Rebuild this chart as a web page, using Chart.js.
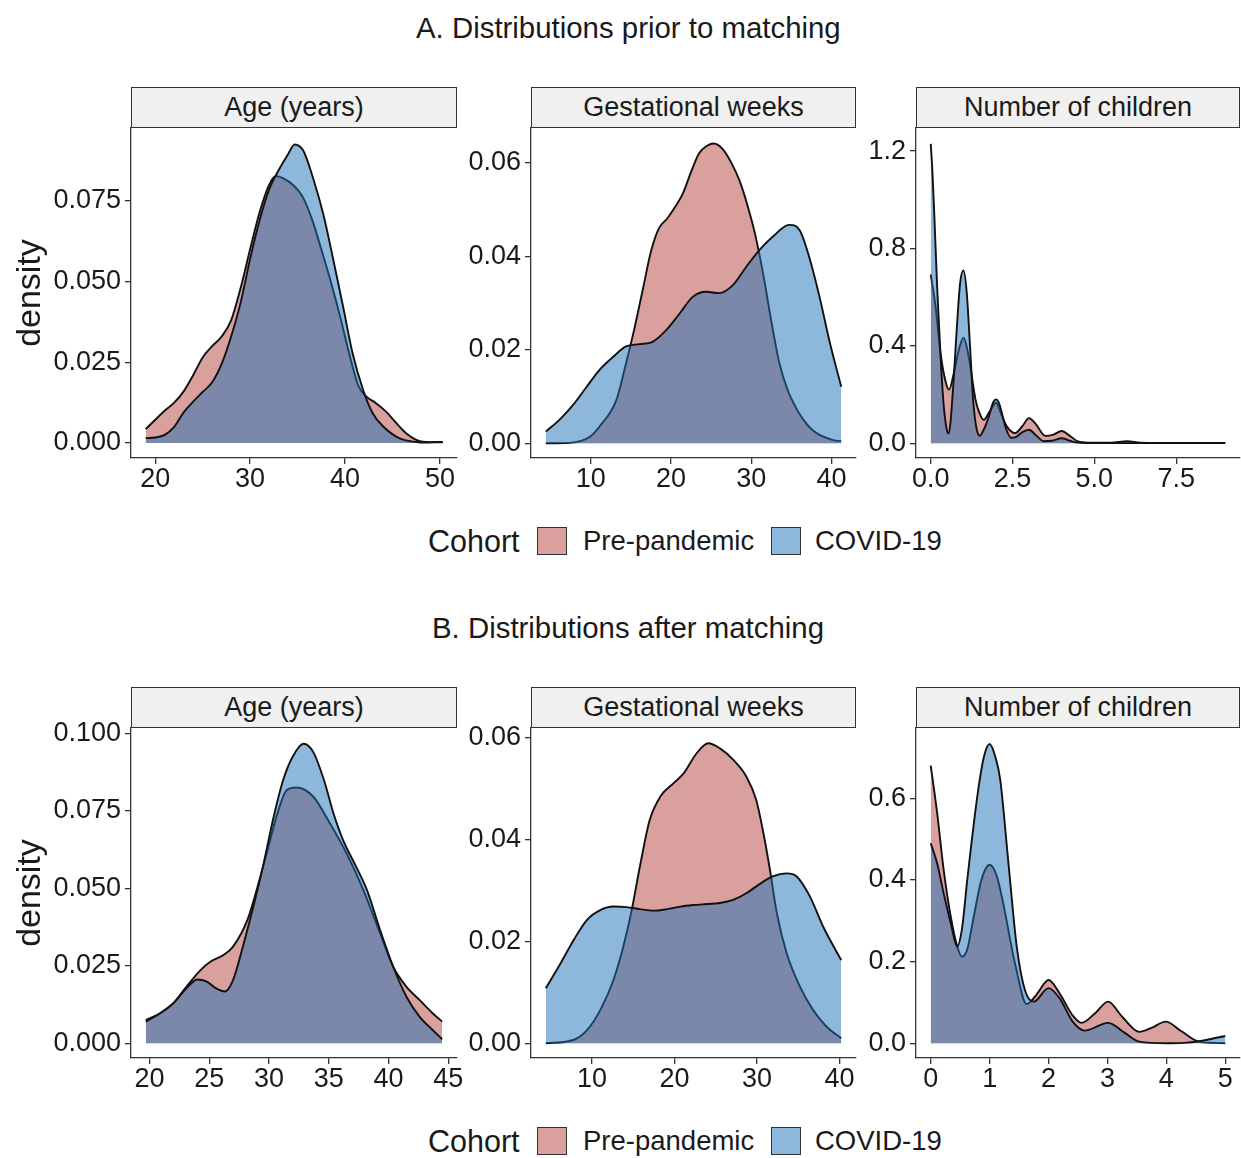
<!DOCTYPE html>
<html>
<head>
<meta charset="utf-8">
<script src="https://cdn.jsdelivr.net/npm/chart.js@4.4.1/dist/chart.umd.min.js"></script>
<style>
  body { margin: 0; background: #fff; font-family: 'Liberation Sans', Arial, sans-serif; color: #1a1a1a; }
  #page { position: relative; width: 1241px; height: 1158px; overflow: hidden; }
  .title { position: absolute; font-size: 29.4px; line-height: 1; white-space: nowrap; }
  .strip { position: absolute; box-sizing: border-box; height: 41px; background: #f0f0f0; border: 1.3px solid #333;
           font-size: 27px; display: flex; align-items: center; justify-content: center; }
  canvas { position: absolute; }
  .leg { position: absolute; font-size: 27.5px; line-height: 1; white-space: nowrap; transform: translateY(-50%); }
  .leg.head { font-size: 30.5px; }
  .key { position: absolute; width: 30px; height: 28px; box-sizing: border-box; border: 1.5px solid #333; transform: translateY(-50%); }
</style>
</head>
<body>
<div id="page">
  <div class="title" style="left:416px; top:13px;">A. Distributions prior to matching</div>
  <div class="title" style="left:432px; top:613px;">B. Distributions after matching</div>
</div>
<script>
// Colours (ggplot fills at alpha 0.5)
const PRE_FILL = 'rgba(179, 65, 61, 0.5)';
const COVID_FILL = 'rgba(29, 113, 183, 0.5)';
const FONT = "'Liberation Sans', Arial, sans-serif";

// A. Age (years)
const AGE_A_PRE_X = [19, 20, 21, 22, 23, 24, 25, 26, 27, 28, 29, 30, 31, 32, 32.7, 33.5, 34.5, 35.5, 36.5, 37.5, 38.5, 39.5, 40.5, 41.4, 42.2, 43.2, 44.3, 45.4, 46.4, 47.5, 48.5, 50.3];
const AGE_A_PRE_Y = [0.0043, 0.0072, 0.0100, 0.0125, 0.0160, 0.0210, 0.0265, 0.0300, 0.0330, 0.0380, 0.0480, 0.0600, 0.0715, 0.0800, 0.0827, 0.0820, 0.0800, 0.0765, 0.0695, 0.0600, 0.0500, 0.0390, 0.0270, 0.0178, 0.0145, 0.0125, 0.0098, 0.0062, 0.0031, 0.0010, 0.0003, 0.0002];
const AGE_A_COVID_X = [19, 20, 21, 22, 23, 24, 25, 26, 27, 28, 29, 30, 31, 32, 33, 34, 34.7, 35.6, 36.6, 37.7, 38.7, 39.8, 40.8, 41.9, 42.9, 44.0, 45.7, 47.5, 48.5, 49.5, 50.3];
const AGE_A_COVID_Y = [0.0015, 0.0017, 0.0025, 0.0050, 0.0095, 0.0128, 0.0158, 0.0188, 0.0245, 0.0330, 0.0435, 0.0570, 0.0690, 0.0785, 0.0845, 0.0895, 0.0925, 0.0906, 0.0824, 0.0710, 0.0577, 0.0422, 0.0278, 0.0165, 0.0093, 0.0052, 0.0015, 0.0003, 0.0001, 0.0003, 0.0003];
const AGE_A_XTICKS = [20, 30, 40, 50];
const AGE_A_XLABELS = ['20', '30', '40', '50'];
const AGE_A_YTICKS = [0, 0.025, 0.05, 0.075];
const AGE_A_YLABELS = ['0.000', '0.025', '0.050', '0.075'];

// A. Gestational weeks
const GEST_A_PRE_X = [4.4, 7.4, 9.9, 11.1, 13.2, 14.4, 15.3, 16.5, 17.5, 18.5, 19.5, 20.5, 21.5, 22.5, 23.5, 24.5, 25.3, 26.5, 27.5, 28.5, 29.5, 30.5, 31.5, 32.5, 33.5, 34.5, 35.5, 36.5, 37.5, 38.5, 40.0, 41.2];
const GEST_A_PRE_Y = [0, 0.0001, 0.0014, 0.0036, 0.0093, 0.0171, 0.0235, 0.033, 0.041, 0.046, 0.048, 0.0505, 0.0535, 0.058, 0.062, 0.0636, 0.0641, 0.0628, 0.060, 0.0563, 0.051, 0.0445, 0.036, 0.026, 0.0171, 0.0115, 0.0078, 0.005, 0.003, 0.0018, 0.0008, 0.0004];
const GEST_A_COVID_X = [4.4, 6.1, 7.8, 9.5, 11.1, 12.8, 14.4, 16.1, 17.7, 19.4, 21.1, 22.7, 24.4, 26.0, 27.7, 29.4, 31.0, 32.7, 34.7, 36.0, 37.2, 38.5, 39.7, 41.2];
const GEST_A_COVID_Y = [0.0025, 0.005, 0.0082, 0.0121, 0.0157, 0.0185, 0.0207, 0.0212, 0.0217, 0.0242, 0.0278, 0.0313, 0.0324, 0.0321, 0.0338, 0.0378, 0.0413, 0.0442, 0.0467, 0.0456, 0.0399, 0.0313, 0.0221, 0.0121];
const GEST_A_XTICKS = [10, 20, 30, 40];
const GEST_A_XLABELS = ['10', '20', '30', '40'];
const GEST_A_YTICKS = [0, 0.02, 0.04, 0.06];
const GEST_A_YLABELS = ['0.00', '0.02', '0.04', '0.06'];

// A. Number of children
const CHILD_A_PRE_X = [0, 0.15, 0.3, 0.46, 0.56, 0.71, 0.86, 1.0, 1.16, 1.37, 1.5, 1.62, 1.8, 2.0, 2.15, 2.33, 2.58, 2.8, 3.0, 3.2, 3.5, 3.75, 4.0, 4.25, 4.5, 4.8, 5.5, 6.0, 6.4, 7.0, 9.0];
const CHILD_A_PRE_Y = [0.693, 0.56, 0.37, 0.25, 0.22, 0.29, 0.384, 0.433, 0.356, 0.178, 0.12, 0.096, 0.13, 0.166, 0.12, 0.068, 0.041, 0.07, 0.103, 0.08, 0.03, 0.035, 0.05, 0.03, 0.007, 0.002, 0.002, 0.008, 0.002, 0.001, 0.001];
const CHILD_A_COVID_X = [0, 0.05, 0.1, 0.2, 0.3, 0.4, 0.5, 0.55, 0.6, 0.7, 0.8, 0.9, 1.0, 1.1, 1.2, 1.3, 1.4, 1.5, 1.6, 1.7, 1.8, 1.9, 2.0, 2.1, 2.2, 2.3, 2.45, 2.6, 2.8, 3.0, 3.2, 3.45, 3.7, 4.0, 4.25, 4.5, 5.0, 9.0];
const CHILD_A_COVID_Y = [1.23, 1.12, 0.97, 0.63, 0.356, 0.15, 0.05, 0.04, 0.08, 0.26, 0.48, 0.66, 0.71, 0.62, 0.40, 0.17, 0.06, 0.03, 0.05, 0.08, 0.12, 0.165, 0.18, 0.16, 0.11, 0.06, 0.022, 0.025, 0.045, 0.055, 0.035, 0.008, 0.01, 0.02, 0.01, 0.002, 0, 0];
const CHILD_A_XTICKS = [0, 2.5, 5, 7.5];
const CHILD_A_XLABELS = ['0.0', '2.5', '5.0', '7.5'];
const CHILD_A_YTICKS = [0, 0.4, 0.8, 1.2];
const CHILD_A_YLABELS = ['0.0', '0.4', '0.8', '1.2'];

// B. Age (years)
const AGE_B_PRE_X = [19.7, 20.9, 22.0, 23.1, 24.3, 25.1, 26.2, 27.0, 28.2, 29.3, 30.0, 30.7, 31.5, 32.3, 33.7, 35.1, 36.5, 37.9, 39.3, 40.4, 41.5, 42.6, 43.7, 44.5];
const AGE_B_PRE_Y = [0.0075, 0.0097, 0.0129, 0.0183, 0.0237, 0.0263, 0.0285, 0.0312, 0.0398, 0.054, 0.064, 0.074, 0.0817, 0.0825, 0.0796, 0.071, 0.0613, 0.0495, 0.0355, 0.0247, 0.0183, 0.014, 0.0097, 0.007];
const AGE_B_COVID_X = [19.7, 20.9, 22.0, 23.1, 24.0, 24.8, 25.6, 26.3, 27.0, 27.9, 28.7, 29.5, 30.4, 31.2, 32.0, 32.9, 33.7, 34.6, 35.4, 36.2, 37.3, 38.2, 39.3, 40.4, 41.5, 42.6, 43.7, 44.5];
const AGE_B_COVID_Y = [0.007, 0.0097, 0.0129, 0.0177, 0.0206, 0.0199, 0.0177, 0.0167, 0.0204, 0.0323, 0.0441, 0.057, 0.0731, 0.085, 0.0925, 0.0966, 0.094, 0.085, 0.0742, 0.0656, 0.057, 0.0495, 0.0366, 0.0247, 0.0151, 0.0086, 0.0043, 0.0013];
const AGE_B_XTICKS = [20, 25, 30, 35, 40, 45];
const AGE_B_XLABELS = ['20', '25', '30', '35', '40', '45'];
const AGE_B_YTICKS = [0, 0.025, 0.05, 0.075, 0.1];
const AGE_B_YLABELS = ['0.000', '0.025', '0.050', '0.075', '0.100'];

// B. Gestational weeks
const GEST_B_PRE_X = [4.4, 7.8, 9.4, 11.0, 12.6, 13.8, 14.8, 15.8, 17.0, 18.3, 19.9, 21.1, 22.7, 24.1, 25.5, 27.1, 28.7, 29.9, 30.7, 31.5, 32.4, 33.6, 35.2, 36.8, 38.4, 40.2];
const GEST_B_PRE_Y = [0, 0.0007, 0.0026, 0.0065, 0.0124, 0.019, 0.026, 0.0346, 0.0438, 0.0484, 0.051, 0.0529, 0.0569, 0.0588, 0.0578, 0.0556, 0.0523, 0.0477, 0.0418, 0.0346, 0.0255, 0.0176, 0.0111, 0.0065, 0.0033, 0.001];
const GEST_B_COVID_X = [4.4, 6.2, 7.8, 9.4, 11.0, 12.6, 14.2, 15.8, 17.5, 19.1, 20.7, 22.3, 23.9, 25.5, 27.1, 28.7, 30.3, 31.9, 33.6, 34.8, 36.4, 38.0, 40.2];
const GEST_B_COVID_Y = [0.0108, 0.0157, 0.0203, 0.0242, 0.0261, 0.0268, 0.0267, 0.0263, 0.026, 0.0263, 0.0268, 0.0271, 0.0273, 0.0275, 0.0281, 0.0294, 0.0312, 0.0327, 0.0333, 0.0327, 0.0288, 0.0229, 0.0163];
const GEST_B_XTICKS = [10, 20, 30, 40];
const GEST_B_XLABELS = ['10', '20', '30', '40'];
const GEST_B_YTICKS = [0, 0.02, 0.04, 0.06];
const GEST_B_YLABELS = ['0.00', '0.02', '0.04', '0.06'];

// B. Number of children
const CHILD_B_PRE_X = [0, 0.11, 0.22, 0.34, 0.45, 0.53, 0.62, 0.73, 0.86, 1.0, 1.12, 1.23, 1.43, 1.63, 1.8, 2.0, 2.19, 2.4, 2.56, 2.8, 3.01, 3.25, 3.54, 3.75, 3.99, 4.25, 4.55, 4.8, 5.0];
const CHILD_B_PRE_Y = [0.68, 0.563, 0.424, 0.31, 0.237, 0.212, 0.23, 0.31, 0.40, 0.437, 0.41, 0.343, 0.196, 0.096, 0.12, 0.155, 0.122, 0.07, 0.05, 0.075, 0.102, 0.065, 0.028, 0.038, 0.053, 0.03, 0.004, 0.001, 0];
const CHILD_B_COVID_X = [0, 0.11, 0.22, 0.34, 0.45, 0.53, 0.62, 0.79, 0.9, 1.0, 1.1, 1.18, 1.32, 1.46, 1.6, 1.75, 2.0, 2.19, 2.4, 2.61, 3.01, 3.3, 3.54, 4.0, 4.3, 4.55, 5.0];
const CHILD_B_COVID_Y = [0.49, 0.44, 0.367, 0.294, 0.237, 0.28, 0.40, 0.604, 0.70, 0.733, 0.70, 0.645, 0.44, 0.237, 0.13, 0.102, 0.135, 0.11, 0.055, 0.031, 0.05, 0.025, 0.004, 0.0, 0.001, 0.005, 0.018];
const CHILD_B_XTICKS = [0, 1, 2, 3, 4, 5];
const CHILD_B_XLABELS = ['0', '1', '2', '3', '4', '5'];
const CHILD_B_YTICKS = [0, 0.2, 0.4, 0.6];
const CHILD_B_YLABELS = ['0.0', '0.2', '0.4', '0.6'];

const STRIPS = ['Age (years)', 'Gestational weeks', 'Number of children'];
const COHORTS = ['Pre-pandemic', 'COVID-19'];

// Layout: columns and rows of the facet grid
const COLS = [
    { canvasLeft: 0,   axisW: 131, plotW: 326, padRight: 18 },
    { canvasLeft: 466, axisW: 65,  plotW: 325, padRight: 12 },
    { canvasLeft: 866, axisW: 50,  plotW: 324, padRight: 1 }
];
const ROWS = [{ plotTop: 128, legendY: 541 }, { plotTop: 728, legendY: 1141 }];
const PLOT_H = 330;
const STRIP_H = 41;

const page = document.getElementById('page');

function toPoints(xs, ys) {
    return xs.map((x, i) => ({ x: x, y: ys[i] }));
}

function makePanel(row, col, p) {
    const c = COLS[col];
    const r = ROWS[row];
    const canvas = document.createElement('canvas');
    canvas.width = c.axisW + c.plotW + c.padRight;
    canvas.height = 20 + PLOT_H + 40;
    canvas.style.left = c.canvasLeft + 'px';
    canvas.style.top = (r.plotTop - 20) + 'px';
    page.appendChild(canvas);

    const tickFont = { family: FONT, size: 27, lineHeight: 1 };
    const axisGrid = { display: true, drawOnChartArea: false, drawTicks: true, tickLength: 6, color: '#333', lineWidth: 1.3 };
    const axisBorder = { display: true, color: '#333', width: 1.3 };

    new Chart(canvas, {
        type: 'line',
        data: {
            datasets: [{
                label: COHORTS[0],
                data: toPoints(p.preX, p.preY),
                backgroundColor: PRE_FILL,
                order: 2
            }, {
                label: COHORTS[1],
                data: toPoints(p.covidX, p.covidY),
                backgroundColor: COVID_FILL,
                order: 1
            }]
        },
        options: {
            responsive: false,
            animation: false,
            devicePixelRatio: 1,
            layout: { padding: { top: 20, right: c.padRight, bottom: 0, left: 0 } },
            plugins: { legend: { display: false }, tooltip: { enabled: false } },
            elements: {
                point: { radius: 0 },
                line: { borderWidth: 1.9, borderColor: '#111', fill: 'origin', cubicInterpolationMode: 'monotone' }
            },
            scales: {
                x: {
                    type: 'linear',
                    min: p.xMin, max: p.xMax,
                    afterBuildTicks: s => { s.ticks = p.xTicks.map(v => ({ value: v })); },
                    afterFit: s => { s.height = 40; },
                    ticks: {
                        font: tickFont, color: '#1a1a1a', padding: 2,
                        autoSkip: false, maxRotation: 0,
                        callback: (v, i) => p.xLabels[i]
                    },
                    grid: axisGrid,
                    border: axisBorder
                },
                y: {
                    type: 'linear',
                    min: p.yMin, max: p.yMax,
                    afterBuildTicks: s => { s.ticks = p.yTicks.map(v => ({ value: v })); },
                    afterFit: s => { s.width = c.axisW; },
                    ticks: {
                        font: tickFont, color: '#1a1a1a', padding: 4,
                        autoSkip: false,
                        callback: (v, i) => p.yLabels[i]
                    },
                    title: {
                        display: col === 0,
                        text: 'density',
                        color: '#1a1a1a',
                        font: { family: FONT, size: 34, lineHeight: 1.2 },
                        padding: { top: 10, bottom: 0 }
                    },
                    grid: axisGrid,
                    border: axisBorder
                }
            }
        }
    });

    // facet strip
    const strip = document.createElement('div');
    strip.className = 'strip';
    strip.textContent = STRIPS[col];
    strip.style.left = (c.canvasLeft + c.axisW) + 'px';
    strip.style.top = (r.plotTop - STRIP_H) + 'px';
    strip.style.width = c.plotW + 'px';
    page.appendChild(strip);
}

function makeLegend(y) {
    const items = [
        { cls: 'leg head', left: 428, text: 'Cohort' },
        { cls: 'key', left: 537, fill: PRE_FILL },
        { cls: 'leg', left: 583, text: COHORTS[0] },
        { cls: 'key', left: 771, fill: COVID_FILL },
        { cls: 'leg', left: 815, text: COHORTS[1] }
    ];
    items.forEach(it => {
        const el = document.createElement('div');
        el.className = it.cls;
        el.style.left = it.left + 'px';
        el.style.top = y + 'px';
        if (it.text) el.textContent = it.text;
        if (it.fill) el.style.background = it.fill;
        page.appendChild(el);
    });
}

Chart.defaults.font.family = FONT;

makePanel(0, 0, { preX: AGE_A_PRE_X, preY: AGE_A_PRE_Y, covidX: AGE_A_COVID_X, covidY: AGE_A_COVID_Y,
    xMin: 17.45, xMax: 51.8, yMin: -0.00465, yMax: 0.0976,
    xTicks: AGE_A_XTICKS, xLabels: AGE_A_XLABELS, yTicks: AGE_A_YTICKS, yLabels: AGE_A_YLABELS });
makePanel(0, 1, { preX: GEST_A_PRE_X, preY: GEST_A_PRE_Y, covidX: GEST_A_COVID_X, covidY: GEST_A_COVID_Y,
    xMin: 2.56, xMax: 43.04, yMin: -0.00314, yMax: 0.0674,
    xTicks: GEST_A_XTICKS, xLabels: GEST_A_XLABELS, yTicks: GEST_A_YTICKS, yLabels: GEST_A_YLABELS });
makePanel(0, 2, { preX: CHILD_A_PRE_X, preY: CHILD_A_PRE_Y, covidX: CHILD_A_COVID_X, covidY: CHILD_A_COVID_Y,
    xMin: -0.45, xMax: 9.45, yMin: -0.061, yMax: 1.295,
    xTicks: CHILD_A_XTICKS, xLabels: CHILD_A_XLABELS, yTicks: CHILD_A_YTICKS, yLabels: CHILD_A_YLABELS });
makePanel(1, 0, { preX: AGE_B_PRE_X, preY: AGE_B_PRE_Y, covidX: AGE_B_COVID_X, covidY: AGE_B_COVID_Y,
    xMin: 18.46, xMax: 45.74, yMin: -0.00474, yMax: 0.1017,
    xTicks: AGE_B_XTICKS, xLabels: AGE_B_XLABELS, yTicks: AGE_B_YTICKS, yLabels: AGE_B_YLABELS });
makePanel(1, 1, { preX: GEST_B_PRE_X, preY: GEST_B_PRE_Y, covidX: GEST_B_COVID_X, covidY: GEST_B_COVID_Y,
    xMin: 2.61, xMax: 41.99, yMin: -0.00288, yMax: 0.0618,
    xTicks: GEST_B_XTICKS, xLabels: GEST_B_XLABELS, yTicks: GEST_B_YTICKS, yLabels: GEST_B_YLABELS });
makePanel(1, 2, { preX: CHILD_B_PRE_X, preY: CHILD_B_PRE_Y, covidX: CHILD_B_COVID_X, covidY: CHILD_B_COVID_Y,
    xMin: -0.25, xMax: 5.25, yMin: -0.036, yMax: 0.772,
    xTicks: CHILD_B_XTICKS, xLabels: CHILD_B_XLABELS, yTicks: CHILD_B_YTICKS, yLabels: CHILD_B_YLABELS });

makeLegend(ROWS[0].legendY);
makeLegend(ROWS[1].legendY);
</script>
</body>
</html>
